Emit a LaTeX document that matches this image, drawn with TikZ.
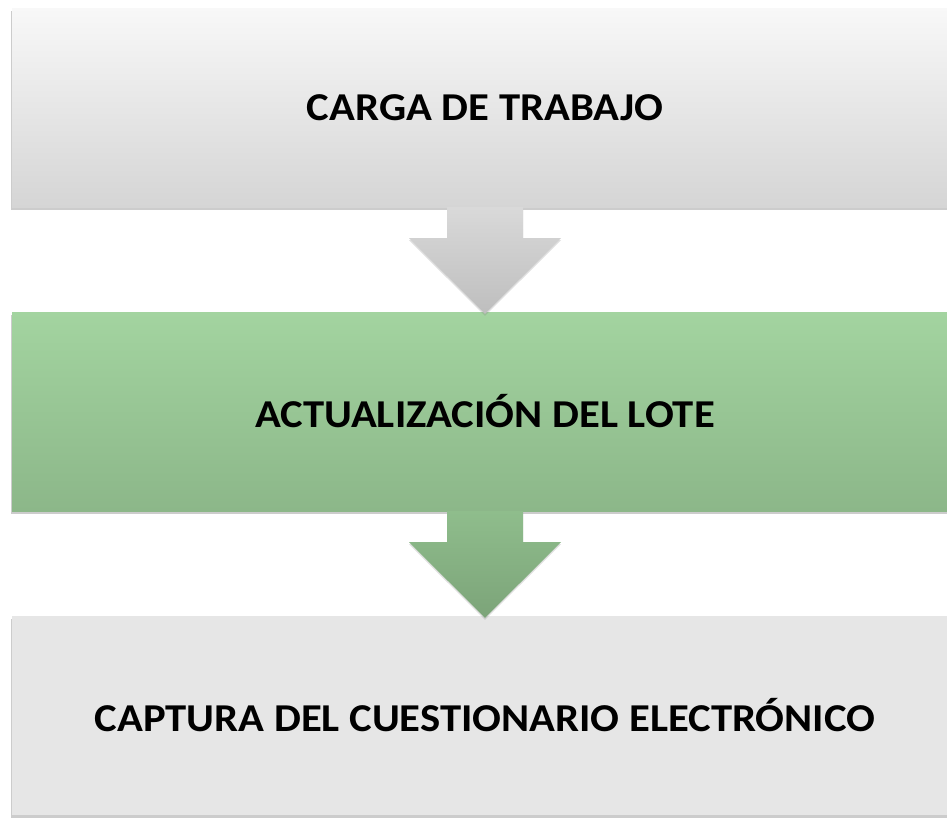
\documentclass[tikz,border=0pt]{standalone}
\usepackage{fontspec}
\setmainfont{Carlito}
\newfontfamily\cajafont[FakeStretch=1.08]{Carlito}
\usepackage{xcolor}
\usepackage{tikz}
\usetikzlibrary{calc}
\usetikzlibrary{shadows}

\definecolor{grisA}{HTML}{F8F8F8}
\definecolor{grisB}{HTML}{D5D5D5}
\definecolor{verdeA}{HTML}{A3D4A0}
\definecolor{verdeB}{HTML}{8CB789}
\definecolor{grisC}{HTML}{E6E6E6}
\definecolor{flechaGA}{HTML}{D9D9D9}
\definecolor{flechaGB}{HTML}{BEBEBE}
\definecolor{flechaVA}{HTML}{8FBD8C}
\definecolor{flechaVB}{HTML}{7CA479}

\tikzset{
  caja/.style={rectangle, minimum width=946pt, minimum height=199pt,
    inner sep=0pt, font=\cajafont\fontsize{39.5}{47}\selectfont\bfseries,
    drop shadow={shadow xshift=-1pt, shadow yshift=-3pt, opacity=0.4}},
  flecha/.style={drop shadow={shadow xshift=0pt, shadow yshift=-2pt, opacity=0.25}}
}

% flecha de bloque entre dos cajas
\newcommand{\flechabloque}[4]{%
  \path[flecha, top color=#3, bottom color=#4]
    ($(#1.south)+(-38,0)$) -- ($(#1.south)+(38,0)$) -- ($(#1.south)+(38,31)$)
    -- ($(#1.south)+(76,31)$) -- ($(#2.north)+(0,2)$) -- ($(#1.south)+(-76,31)$)
    -- ($(#1.south)+(-38,31)$) -- cycle;}

\begin{document}
\begin{tikzpicture}[x=1pt,y=-1pt]
  \useasboundingbox (0,0) rectangle (947,817);
  \fill[white] (0,0) rectangle (947,817);
  \node[caja, top color=grisA, bottom color=grisB] (carga) at (485,107.5) {CARGA DE TRABAJO};
  \node[caja, top color=verdeA, bottom color=verdeB] (lote) at (485,411.5) {ACTUALIZACIÓN DEL LOTE};
  \node[caja, fill=grisC] (captura) at (485,715.5) {CAPTURA DEL CUESTIONARIO ELECTRÓNICO};
  \flechabloque{carga}{lote}{flechaGA}{flechaGB}
  \flechabloque{lote}{captura}{flechaVA}{flechaVB}
\end{tikzpicture}
\end{document}
